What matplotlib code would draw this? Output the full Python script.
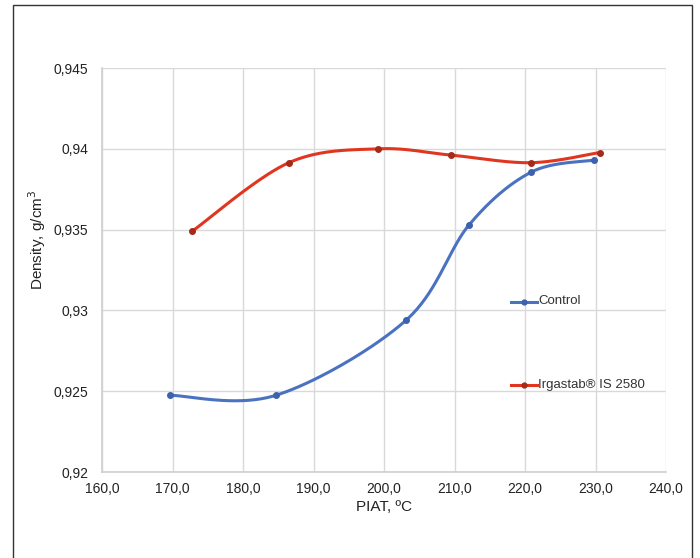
import numpy as np
import matplotlib
matplotlib.use("Agg")
import matplotlib.pyplot as plt
from matplotlib.patches import Rectangle
from matplotlib.lines import Line2D

plt.rcParams['font.family'] = ['Liberation Sans', 'DejaVu Sans']

# Data
control_x = [169.6, 184.7, 203.1, 212.1, 220.9, 229.8]
control_y = [0.92475, 0.92475, 0.92938, 0.93531, 0.93856, 0.93930]
irga_x = [172.8, 186.5, 199.2, 209.5, 220.8, 230.6]
irga_y = [0.93490, 0.93914, 0.94000, 0.93961, 0.93914, 0.93977]
xticks = [160, 170, 180, 190, 200, 210, 220, 230, 240]
yticks = [0.92, 0.925, 0.93, 0.935, 0.94, 0.945]
xtick_labels = ["160,0", "170,0", "180,0", "190,0", "200,0", "210,0", "220,0", "230,0", "240,0"]
ytick_labels = ["0,92", "0,925", "0,93", "0,935", "0,94", "0,945"]
series_names = ["Control", "Irgastab® IS 2580"]


def smooth(xs, ys, n=40):
    P = np.column_stack([xs, ys]).astype(float)
    out = []
    m = len(P)
    for i in range(m - 1):
        p0 = P[i - 1] if i > 0 else P[i]
        p1 = P[i]
        p2 = P[i + 1]
        p3 = P[i + 2] if i + 2 < m else P[i + 1]
        c1 = p1 + (p2 - p0) / 6.0
        c2 = p2 - (p3 - p1) / 6.0
        t = np.linspace(0, 1, n)[:, None]
        seg = ((1 - t) ** 3) * p1 + 3 * ((1 - t) ** 2) * t * c1 + 3 * (1 - t) * t ** 2 * c2 + t ** 3 * p2
        out.append(seg if i == 0 else seg[1:])
    arr = np.vstack(out)
    return arr[:, 0], arr[:, 1]


W, H = 700, 558
fig = plt.figure(figsize=(W / 100, H / 100), dpi=100)
fig.patch.set_facecolor('white')

# outer frame
fig.add_artist(Rectangle((13 / W, -0.05), (692 - 13) / W, (H - 5) / H + 0.05,
                         transform=fig.transFigure, fill=False,
                         edgecolor='#333333', linewidth=1.0))

left, right, top, bottom = 102, 666, 68, 472
ax = fig.add_axes([left / W, (H - bottom) / H, (right - left) / W, (bottom - top) / H])

blue = '#4a72c0'
red = '#e0361f'

sx, sy = smooth(control_x, control_y)
ax.plot(sx, sy, color=blue, lw=2.2, solid_capstyle='round', zorder=3)
ax.plot(control_x, control_y, 'o', color='#3d62ad', ms=4, zorder=4)

rx, ry = smooth(irga_x, irga_y)
ax.plot(rx, ry, color=red, lw=2.2, solid_capstyle='round', zorder=3)
ax.plot(irga_x, irga_y, 'o', color='#a52a1a', ms=4, zorder=4)

ax.set_xlim(160, 240)
ax.set_ylim(0.92, 0.945)
ax.set_xticks(xticks)
ax.set_xticklabels(xtick_labels)
ax.set_yticks(yticks)
ax.set_yticklabels(ytick_labels)
ax.tick_params(length=0, labelsize=10, colors='#222222')
ax.tick_params(axis='y', pad=10)
ax.tick_params(axis='x', pad=7)
ax.grid(True, color='#d9d9d9', lw=1.0)
ax.set_axisbelow(True)
for s in ['top', 'right']:
    ax.spines[s].set_visible(False)
for s in ['left', 'bottom']:
    ax.spines[s].set_color('#cfcfcf')
    ax.spines[s].set_linewidth(1.2)

ax.set_xlabel("PIAT, ºC", fontsize=11, color='#222222', labelpad=3)
fig.text(37 / W, (H - 240) / H, "Density, g/cm$^3$", rotation=90, ha='center', va='center',
         fontsize=11, color='#222222')

# legend entries
for name, col, mcol, ypx in [(series_names[0], blue, '#3d62ad', 301.5),
                             (series_names[1], red, '#a52a1a', 385)]:
    yf = (H - ypx) / H
    fig.add_artist(Line2D([511 / W, 537 / W], [yf, yf], color=col, lw=2.2, transform=fig.transFigure))
    fig.add_artist(Line2D([524 / W], [yf], marker='o', ms=3.5, color=mcol, transform=fig.transFigure))
    fig.text(538 / W, yf, name, ha='left', va='center', fontsize=9.5, color='#333333')

fig.savefig("out.png", dpi=100)
